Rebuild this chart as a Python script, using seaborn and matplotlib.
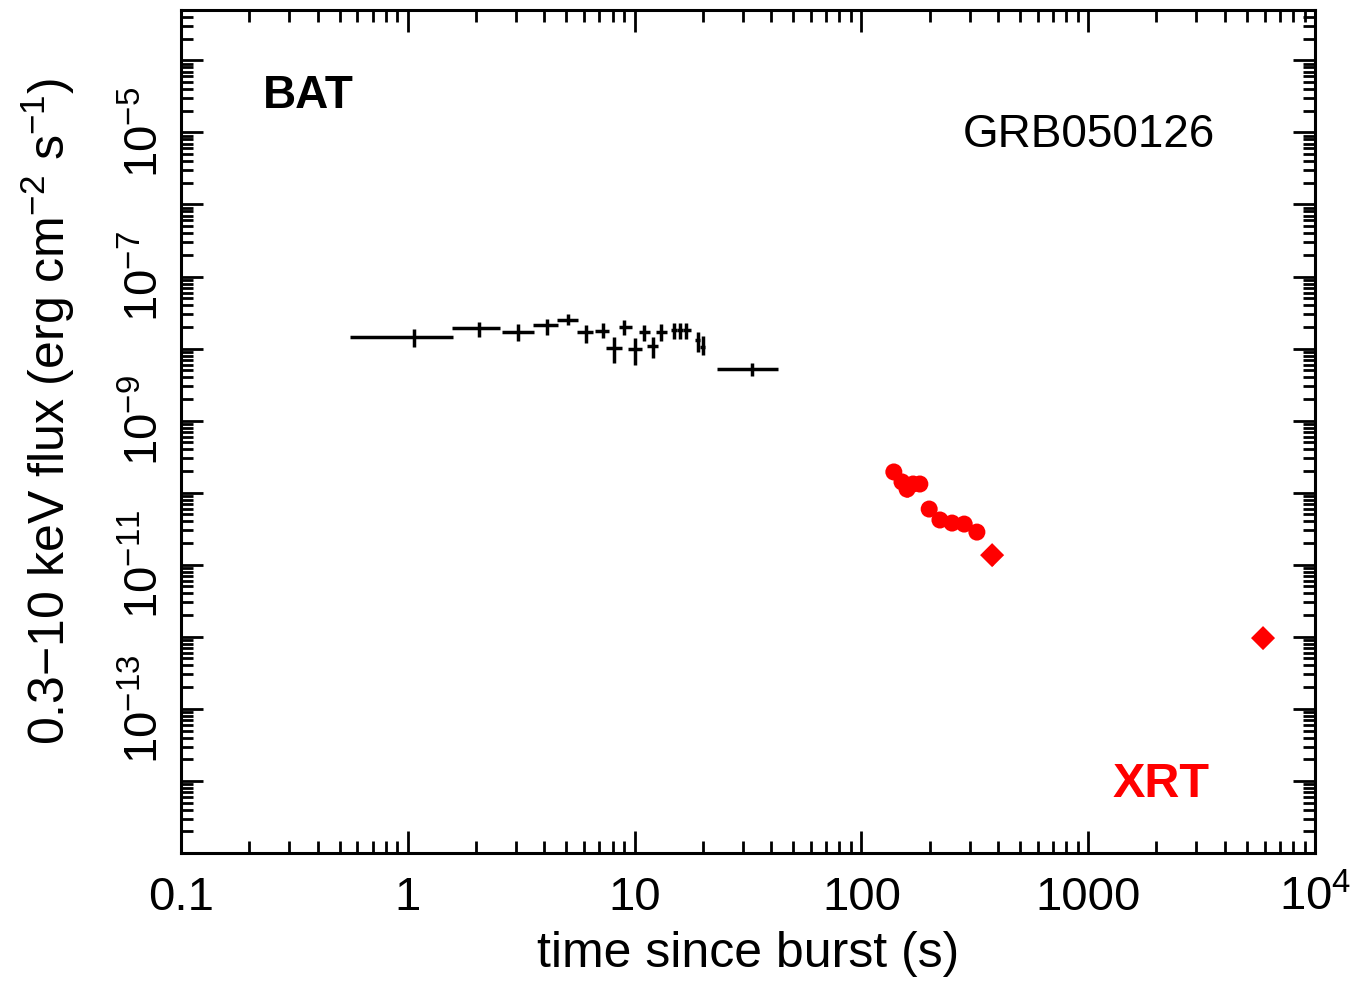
import numpy as np
import pandas as pd
import matplotlib
matplotlib.use("Agg")
import matplotlib.pyplot as plt
import seaborn as sns
from matplotlib.ticker import LogLocator, FixedLocator, FuncFormatter, NullFormatter

# ---------------- data ----------------
# BAT: time bins (s) and flux (erg cm^-2 s^-1)
bat_time = [1.06, 2.07, 3.07, 4.09, 5.07, 6.11, 7.23, 8.11, 9.01, 10.04,
            11.04, 12.02, 13.07, 14.96, 15.86, 16.93, 19.1, 19.95, 32.8]
bat_tlo = [0.556, 1.56, 2.59, 3.56, 4.53, 5.56, 6.68, 7.48, 8.51, 9.37,
           10.49, 11.30, 12.41, 14.4, 15.4, 16.4, 18.5, 19.5, 23.0]
bat_thi = [1.58, 2.55, 3.60, 4.61, 5.65, 6.58, 7.73, 8.77, 9.70, 10.74,
           11.70, 12.72, 13.85, 15.4, 16.4, 17.8, 19.5, 20.4, 42.8]
bat_flux = [1.46e-8, 1.93e-8, 1.71e-8, 2.10e-8, 2.49e-8, 1.68e-8, 1.77e-8, 1.03e-8, 2.01e-8, 9.86e-9,
            1.68e-8, 1.10e-8, 1.71e-8, 1.81e-8, 1.81e-8, 1.81e-8, 1.31e-8, 1.06e-8, 5.2e-9]
bat_flo = [1.05e-8, 1.46e-8, 1.28e-8, 1.54e-8, 2.12e-8, 1.21e-8, 1.39e-8, 6.25e-9, 1.54e-8, 5.92e-9,
           1.28e-8, 7.33e-9, 1.27e-8, 1.36e-8, 1.36e-8, 1.36e-8, 8.95e-9, 8.15e-9, 4.16e-9]
bat_fhi = [1.87e-8, 2.36e-8, 2.19e-8, 2.55e-8, 3.02e-8, 2.12e-8, 2.29e-8, 1.43e-8, 2.49e-8, 1.39e-8,
           2.12e-8, 1.46e-8, 2.19e-8, 2.24e-8, 2.24e-8, 2.24e-8, 1.71e-8, 1.49e-8, 6.24e-9]

# XRT
xrt_time = [139, 151, 159, 169, 181, 199, 222, 251, 284, 323, 377, 5900]
xrt_flux = [1.94e-10, 1.41e-10, 1.12e-10, 1.32e-10, 1.32e-10, 5.93e-11, 4.18e-11, 3.79e-11,
            3.67e-11, 2.84e-11, 1.36e-11, 9.6e-13]
xrt_flo = [1.55e-10, 1.12e-10, 0.88e-10, 1.05e-10, 1.05e-10, 4.7e-11, 3.3e-11, 3.0e-11,
           2.9e-11, 2.25e-11, 0.98e-11, 7.6e-13]
xrt_fhi = [2.3e-10, 1.68e-10, 1.34e-10, 1.56e-10, 1.56e-10, 7.0e-11, 5.0e-11, 4.5e-11,
           4.4e-11, 3.4e-11, 1.7e-11, 1.15e-12]
xrt_kind = ["circle"] * 10 + ["diamond"] * 2

xtick_vals = [0.1, 1, 10, 100, 1000, 1e4]
xtick_labels = ["0.1", "1", "10", "100", "1000", r"$10^{4}$"]
ytick_labelled = [-5, -7, -9, -11, -13]

# ---------------- style ----------------
sns.set_theme(style="ticks")
plt.rcParams["font.family"] = ["Liberation Sans", "DejaVu Sans"]
plt.rcParams["mathtext.fontset"] = "custom"
plt.rcParams["mathtext.rm"] = "Liberation Sans"
plt.rcParams["mathtext.it"] = "Liberation Sans:italic"
plt.rcParams["mathtext.bf"] = "Liberation Sans:bold"
plt.rcParams["axes.linewidth"] = 2.2
plt.rcParams["axes.edgecolor"] = "black"

fig = plt.figure(figsize=(13.61, 9.82), dpi=100)
ax = fig.add_axes([0.133, 0.1314, 0.8332, 0.8584])
ax.set_xscale("log")
ax.set_yscale("log")

# BAT crosses
t = np.array(bat_time)
f = np.array(bat_flux)
ax.errorbar(t, f,
            xerr=[t - np.array(bat_tlo), np.array(bat_thi) - t],
            yerr=[f - np.array(bat_flo), np.array(bat_fhi) - f],
            fmt="none", ecolor="black", elinewidth=2.5, capsize=0)

# XRT points
xt = np.array(xrt_time)
xf = np.array(xrt_flux)
ax.errorbar(xt, xf, yerr=[xf - np.array(xrt_flo), np.array(xrt_fhi) - xf],
            fmt="none", ecolor="red", elinewidth=2, capsize=0)
df = pd.DataFrame({"time": xrt_time, "flux": xrt_flux, "kind": xrt_kind})
sns.scatterplot(data=df, x="time", y="flux", style="kind",
                markers={"circle": "o", "diamond": "D"}, color="red",
                s=150, edgecolor="none", linewidth=0, legend=False, ax=ax, zorder=3)

ax.set_xlim(0.1, 1e4)
ax.set_ylim(1e-15, 5e-4)

# ticks
ax.xaxis.set_major_locator(FixedLocator(xtick_vals))
ax.xaxis.set_major_formatter(FuncFormatter(lambda v, p: xtick_labels[int(round(np.log10(v))) + 1]))
ax.xaxis.set_minor_locator(LogLocator(base=10, subs=np.arange(2, 10), numticks=60))
ax.xaxis.set_minor_formatter(NullFormatter())
ax.yaxis.set_major_locator(LogLocator(base=10, numticks=60))
ax.yaxis.set_minor_locator(LogLocator(base=10, subs=np.arange(2, 10), numticks=60))
ax.yaxis.set_minor_formatter(NullFormatter())


def yfmt(v, p):
    e = int(round(np.log10(v)))
    return r"$10^{%d}$" % e if e in ytick_labelled else ""


ax.yaxis.set_major_formatter(FuncFormatter(yfmt))

ax.tick_params(which="both", direction="in", top=True, right=True, width=2, color="black")
ax.tick_params(which="major", length=16)
ax.tick_params(which="minor", length=8.5)
ax.tick_params(axis="x", which="major", labelsize=34, pad=41, labelcolor="black")
ax.tick_params(axis="y", which="major", labelsize=34, pad=9, labelrotation=90, labelcolor="black")
for lab in ax.get_xticklabels():
    lab.set_va("baseline")
for lab in ax.get_yticklabels():
    lab.set_va("center")

ax.set_xlabel("time since burst (s)", fontsize=36, color="black", labelpad=8)
ax.set_ylabel(r"0.3$-$10 keV flux (erg cm$^{-2}$ s$^{-1}$)", fontsize=36, color="black")
ax.yaxis.set_label_coords(-0.0915, 0.5243)

ax.text(0.0723, 0.8837, "BAT", transform=ax.transAxes, fontsize=33, fontweight="bold",
        color="black", ha="left", va="baseline")
ax.text(0.6896, 0.8375, "GRB050126", transform=ax.transAxes, fontsize=33,
        color="black", ha="left", va="baseline")
ax.text(0.8219, 0.0664, "XRT", transform=ax.transAxes, fontsize=35, fontweight="bold",
        color="red", ha="left", va="baseline")

fig.savefig("out.png", dpi=100, facecolor="white")
